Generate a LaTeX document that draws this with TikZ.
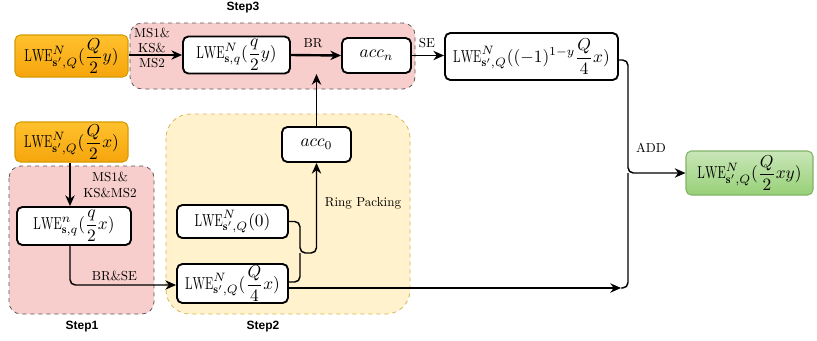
\documentclass[tikz,border=0pt]{standalone}
\usepackage{fontspec}
\usepackage{amsmath}
\usepackage{graphicx}
\usetikzlibrary{arrows.meta}
\newfontfamily\stepfont{Liberation Sans}
\newcommand{\mylwe}[1]{\scalebox{1.3}{$\displaystyle #1$}}
\newcommand{\LWEtxt}{\scalebox{0.7}[1]{$\mathrm{LWE}$}}
\newcommand{\myacc}[1]{\scalebox{1.3}{$#1$}}
\definecolor{ortop}{HTML}{FFC12E}
\definecolor{orbot}{HTML}{F6A50C}
\definecolor{orline}{HTML}{D79B00}
\definecolor{grtop}{HTML}{C9E6B8}
\definecolor{grbot}{HTML}{97D077}
\definecolor{grline}{HTML}{82B366}
\definecolor{pinkfill}{HTML}{F8CECC}
\definecolor{yelfill}{HTML}{FFF2CC}
\definecolor{yelline}{HTML}{D6B656}
\begin{document}
\begin{tikzpicture}[x=0.75pt,y=-0.75pt,
  box/.style={draw=black, line width=1.4pt, rounded corners=4pt, fill=white, inner sep=0pt},
  sz/.style 2 args={minimum width=#1*0.75pt, minimum height=#2*0.75pt},
  orbox/.style={box, draw=orline, line width=0.8pt, top color=ortop, bottom color=orbot},
  grbox/.style={box, draw=grline, line width=0.8pt, top color=grtop, bottom color=grbot},
  region/.style={dashed, line width=0.6pt, rounded corners=9pt},
  conn/.style={line width=1.1pt, rounded corners=4pt},
  arr/.style={conn, -{Stealth[length=8pt, width=7pt, inset=2.5pt]}},
  lbl/.style={font=\fontsize{9.8}{11.5}\selectfont, align=center, inner sep=0pt},
  steplbl/.style={font=\stepfont\bfseries\fontsize{9}{10}\selectfont, inner sep=0pt}
]
\useasboundingbox (0,0) rectangle (817,340);

% regions
\draw[region, fill=pinkfill, draw=black!65] (130,23) rectangle (415,89);
\draw[region, fill=pinkfill, draw=black!65] (9,166) rectangle (154,314);
\draw[region, fill=yelfill, draw=yelline, rounded corners=18pt] (166,114) rectangle (410,314);

\node[steplbl] (st3) at (243,8) {Step3};
\node[steplbl] (st1) at (82,327) {Step1};
\node[steplbl] (st2) at (263,327) {Step2};

% nodes
\node[orbox, sz={113}{42}] (o1) at (71.5,56) {\mylwe{\LWEtxt^N_{\mathbf{s}',Q}(\dfrac{Q}{2}y)}};
\node[box, sz={107}{37}] (sq) at (236.5,55) {\mylwe{\LWEtxt^N_{\mathbf{s},q}(\dfrac{q}{2}y)}};
\node[box, sz={69}{35}] (accn) at (376.5,55.5) {\myacc{acc_n}};
\node[box, sz={173}{47}] (big) at (531.5,56.5) {\mylwe{\LWEtxt^N_{\mathbf{s}',Q}((-1)^{1-y}\dfrac{Q}{4}x)}};
\node[grbox, sz={127}{44}] (gr) at (749.5,173) {\mylwe{\LWEtxt^N_{\mathbf{s}',Q}(\dfrac{Q}{2}xy)}};
\node[orbox, sz={113}{40}] (o2) at (71.5,142) {\mylwe{\LWEtxt^N_{\mathbf{s}',Q}(\dfrac{Q}{2}x)}};
\node[box, sz={114}{38}] (n1) at (74,226) {\mylwe{\LWEtxt^n_{\mathbf{s},q}(\dfrac{q}{2}x)}};
\node[box, sz={69}{35}] (acc0) at (316.5,144.5) {\myacc{acc_0}};
\node[box, sz={111}{33}] (zero) at (232.5,221.5) {\mylwe{\LWEtxt^N_{\mathbf{s}',Q}(0)}};
\node[box, sz={111}{39}] (s2) at (232.5,283.5) {\mylwe{\LWEtxt^N_{\mathbf{s}',Q}(\dfrac{Q}{4}x)}};

% labels
\node[lbl] (l1) at (152,48) {MS1\&\\KS\&\\MS2};
\node[lbl] (l2) at (313,43) {BR};
\node[lbl] (l3) at (427,43) {SE};
\node[lbl] (l4) at (110,185) {MS1\&\\KS\&MS2};
\node[lbl] (l5) at (114.5,276) {BR\&SE};
\node[lbl] (l6) at (363,203) {Ring Packing};
\node[lbl] (l7) at (651,148) {ADD};

% coordinates
\coordinate (brin) at (316.5,74);
\coordinate (addin) at (621,288);
\coordinate (join) at (628,173);

% connectors
\draw[arr] (o1.east |- sq.west) -- (sq.west);
\draw[arr, line width=1.8pt] (sq.east) -- (accn.west);
\draw[arr] (accn.east) -- (accn.east -| big.west);
\draw[arr] (acc0.north) -- (brin);
\draw[arr] (o2.south -| 70,0) -- (n1.north -| 70,0);
\draw[arr] (n1.south -| 70,0) |- (s2.west |- 0,285);
\draw[arr] (zero.east) -| (300,253) -| (acc0.south);
\draw[conn] (s2.east |- 0,282) -| (300,253);
\draw[arr] (s2.east |- 0,288) -- (addin);
\draw[conn] (addin) -| (join);
\draw[arr] (big.east |- 0,60) -| (join) -- (gr.west);
\end{tikzpicture}
\end{document}
